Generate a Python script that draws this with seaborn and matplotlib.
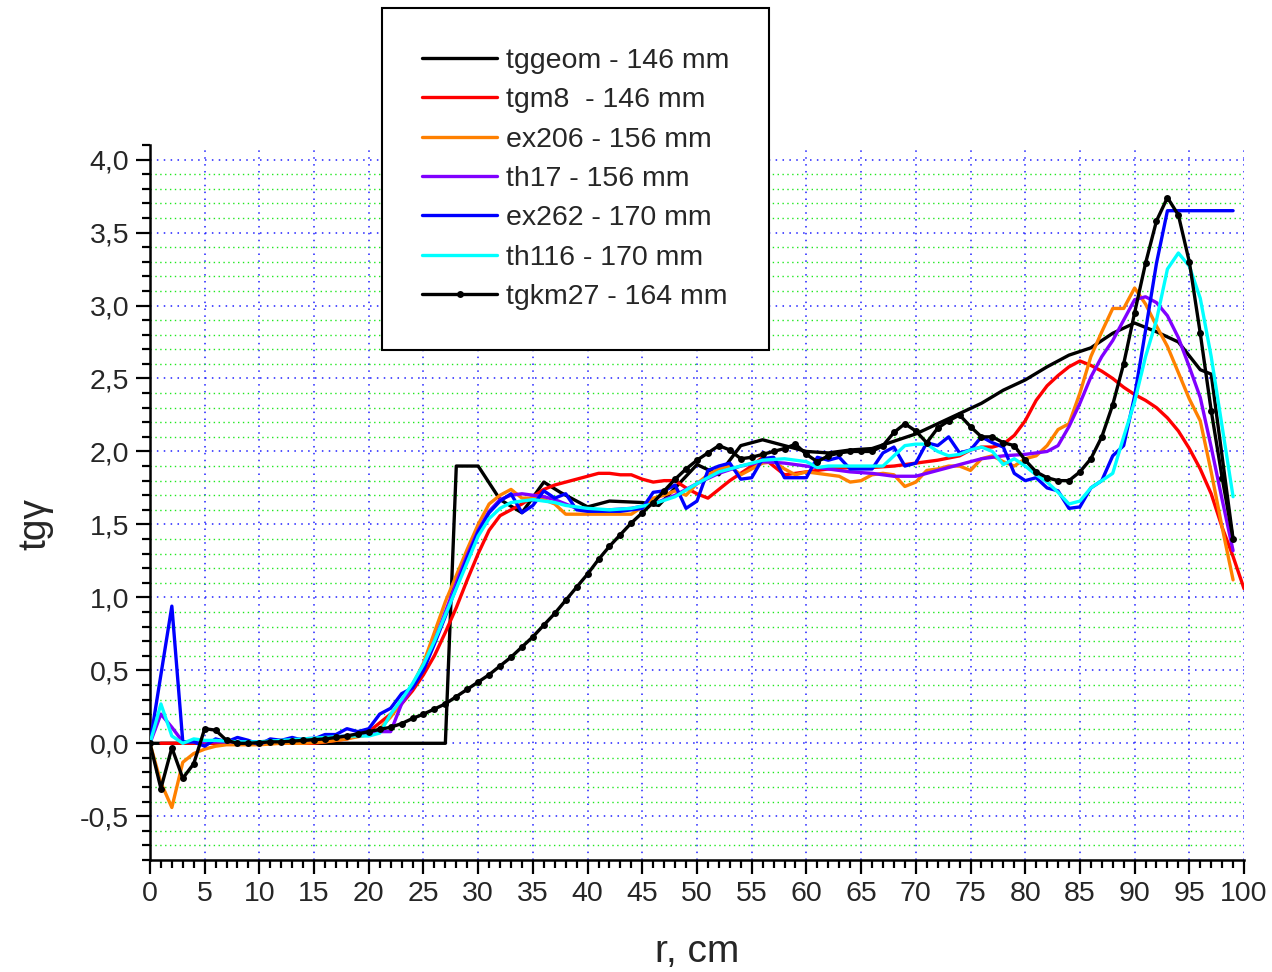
import matplotlib
matplotlib.use("Agg")
import matplotlib.pyplot as plt
import seaborn as sns
import pandas as pd
from matplotlib.ticker import MultipleLocator, FixedLocator

sns.set_style("white")
plt.rcParams['font.family'] = ['Liberation Sans', 'DejaVu Sans']

# ---------------- data ----------------
tggeom_r = [0, 27, 28, 30, 32, 34, 36, 37.5, 40, 42, 45, 46.5, 50, 52, 54, 56, 58, 60, 62, 64, 66, 68,
            70, 72, 74, 76, 78, 80, 82, 84, 86, 88, 90, 92, 94, 96, 97, 99]
tggeom_v = [0, 0, 1.9, 1.9, 1.67, 1.58, 1.79, 1.72, 1.62, 1.66, 1.65, 1.63, 1.91, 1.84, 2.04, 2.08, 2.04,
            2.0, 1.99, 2.01, 2.02, 2.07, 2.12, 2.19, 2.26, 2.33, 2.42, 2.49, 2.58, 2.66, 2.71, 2.81, 2.88,
            2.82, 2.75, 2.56, 2.53, 1.40]

tgm8_r = [1, 5, 10, 15, 16, 18, 20, 21, 22, 23, 24, 25, 26, 27, 28, 29, 30, 31, 32, 33, 34, 35, 36, 37,
          38, 39, 40, 41, 42, 43, 44, 45, 46, 47, 48, 49, 50, 51, 52, 53, 54, 55, 56, 57, 58, 60, 62, 64,
          66, 68, 70, 72, 74, 75, 76, 77, 78, 79, 80, 81, 82, 83, 84, 85, 86, 87, 88, 89, 90, 91, 92, 93,
          94, 95, 96, 97, 98, 99, 100]
tgm8_v = [0, 0, 0, 0, 0.01, 0.03, 0.08, 0.14, 0.2, 0.27, 0.36, 0.47, 0.6, 0.76, 0.93, 1.12, 1.30, 1.46,
          1.56, 1.60, 1.64, 1.69, 1.74, 1.77, 1.79, 1.81, 1.83, 1.85, 1.85, 1.84, 1.84, 1.81, 1.79, 1.80,
          1.80, 1.75, 1.71, 1.68, 1.74, 1.80, 1.85, 1.90, 1.96, 1.90, 1.84, 1.86, 1.88, 1.89, 1.89, 1.90,
          1.92, 1.94, 1.97, 2.01, 2.03, 2.03, 2.05, 2.11, 2.21, 2.35, 2.45, 2.52, 2.58, 2.62, 2.59, 2.55,
          2.50, 2.44, 2.39, 2.35, 2.30, 2.23, 2.14, 2.02, 1.88, 1.71, 1.48, 1.28, 1.06]

ex206_r = [0, 1, 2, 3, 4, 5, 6, 7, 8, 10, 12, 14, 16, 18, 20, 21, 22, 23, 24, 25, 26, 27, 28, 29, 30, 31,
           32, 33, 34, 35, 36, 37, 38, 39, 40, 41, 42, 43, 44, 45, 46, 47, 48, 49, 50, 51, 52, 53, 54, 55,
           56, 57, 58, 59, 60, 61, 62, 63, 64, 65, 66, 67, 68, 69, 70, 71, 72, 73, 74, 75, 76, 77, 78, 79,
           80, 81, 82, 83, 84, 85, 86, 87, 88, 89, 90, 91, 92, 93, 94, 95, 96, 97, 98, 99]
ex206_v = [0, -0.27, -0.44, -0.13, -0.07, -0.04, -0.02, -0.01, -0.01, -0.01, 0.0, 0.0, 0.01, 0.03, 0.06,
           0.1, 0.18, 0.28, 0.4, 0.55, 0.76, 0.97, 1.15, 1.33, 1.5, 1.64, 1.70, 1.74, 1.68, 1.68, 1.67,
           1.64, 1.57, 1.57, 1.57, 1.57, 1.57, 1.57, 1.57, 1.62, 1.68, 1.70, 1.73, 1.70, 1.78, 1.84, 1.88,
           1.90, 1.84, 1.88, 1.92, 1.93, 1.88, 1.84, 1.86, 1.85, 1.84, 1.83, 1.79, 1.80, 1.84, 1.85, 1.84,
           1.76, 1.79, 1.87, 1.88, 1.90, 1.90, 1.87, 1.95, 1.97, 1.93, 1.90, 1.95, 1.97, 2.04, 2.15, 2.19,
           2.40, 2.65, 2.82, 2.98, 2.98, 3.12, 3.01, 2.86, 2.72, 2.54, 2.36, 2.21, 1.86, 1.48, 1.12]

th17_r = [0, 1, 2, 3, 4, 6, 8, 10, 12, 14, 16, 18, 20, 21, 22, 23, 24, 25, 26, 27, 28, 29, 30, 31, 32,
          33, 34, 35, 36, 37, 38, 39, 40, 42, 44, 46, 48, 50, 52, 54, 56, 58, 60, 62, 64, 66, 68, 70, 72,
          74, 76, 78, 80, 82, 83, 84, 85, 86, 87, 88, 89, 90, 91, 92, 93, 94, 95, 96, 97, 98, 99]
th17_v = [0, 0.2, 0.11, 0.01, 0.01, 0.01, 0.01, 0.01, 0.02, 0.03, 0.04, 0.05, 0.07, 0.08, 0.08, 0.27,
          0.38, 0.52, 0.7, 0.9, 1.1, 1.29, 1.46, 1.59, 1.67, 1.70, 1.71, 1.70, 1.69, 1.67, 1.64, 1.61,
          1.60, 1.60, 1.61, 1.64, 1.70, 1.78, 1.85, 1.90, 1.93, 1.92, 1.90, 1.88, 1.86, 1.85, 1.83, 1.83,
          1.87, 1.91, 1.95, 1.97, 1.98, 2.0, 2.04, 2.17, 2.33, 2.51, 2.65, 2.76, 2.9, 3.04, 3.06, 3.02,
          2.93, 2.78, 2.58, 2.37, 2.03, 1.67, 1.32]

ex262_r = list(range(0, 100))
ex262_v = [0, 0.47, 0.94, 0.01, 0.01, -0.02, 0.03, 0.01, 0.04, 0.02, -0.01, 0.03, 0.02, 0.04, 0.02,
           0.03, 0.06, 0.06, 0.10, 0.08, 0.10, 0.20, 0.24, 0.34, 0.38, 0.50, 0.68, 0.87, 1.07, 1.27,
           1.45, 1.58, 1.66, 1.71, 1.58, 1.63, 1.73, 1.68, 1.71, 1.60, 1.59, 1.59, 1.59, 1.59, 1.60,
           1.61, 1.72, 1.73, 1.77, 1.61, 1.66, 1.87, 1.90, 1.92, 1.81, 1.82, 1.95, 1.96, 1.82, 1.82,
           1.82, 1.96, 1.94, 1.96, 1.88, 1.88, 1.88, 1.99, 2.03, 1.90, 1.92, 2.06, 2.04, 2.10, 1.99,
           2.01, 2.10, 2.06, 2.03, 1.85, 1.80, 1.82, 1.75, 1.73, 1.61, 1.62, 1.75, 1.80, 1.97, 2.04,
           2.38, 2.83, 3.29, 3.65, 3.65, 3.65, 3.65, 3.65, 3.65, 3.65]

th116_r = [0, 1, 2, 3, 4, 5, 6, 8, 10, 12, 14, 16, 18, 20, 21, 22, 23, 24, 25, 26, 27, 28, 29, 30, 31,
           32, 33, 34, 35, 36, 37, 38, 40, 42, 44, 46, 48, 50, 52, 54, 56, 58, 60, 61, 62, 64, 66, 67,
           68, 69, 70, 71, 72, 73, 74, 75, 76, 77, 78, 79, 80, 81, 82, 83, 84, 85, 86, 87, 88, 89, 90,
           91, 92, 93, 94, 95, 96, 97, 98, 99]
th116_v = [0, 0.27, 0.05, 0.0, 0.03, 0.02, 0.02, 0.01, 0.01, 0.02, 0.03, 0.04, 0.05, 0.05, 0.07, 0.2,
           0.3, 0.41, 0.54, 0.7, 0.88, 1.06, 1.24, 1.42, 1.54, 1.61, 1.65, 1.66, 1.67, 1.66, 1.65, 1.63,
           1.61, 1.60, 1.61, 1.64, 1.69, 1.78, 1.86, 1.90, 1.94, 1.95, 1.93, 1.89, 1.90, 1.90, 1.90, 1.90,
           1.97, 2.04, 2.05, 2.05, 2.0, 1.97, 1.98, 2.01, 2.03, 2.0, 1.91, 1.95, 1.90, 1.84, 1.79, 1.72,
           1.64, 1.66, 1.75, 1.80, 1.85, 2.10, 2.34, 2.65, 2.90, 3.25, 3.36, 3.27, 3.05, 2.65, 2.17, 1.69]

tgkm27_r = list(range(0, 100))
tgkm27_v = [0, -0.31, -0.03, -0.24, -0.14, 0.10, 0.09, 0.02, 0.0, 0.0, 0.005, 0.01, 0.01, 0.015, 0.02,
            0.025, 0.03, 0.04, 0.05, 0.065, 0.08, 0.095, 0.11, 0.135, 0.17, 0.20, 0.235, 0.27, 0.32,
            0.37, 0.42, 0.47, 0.53, 0.59, 0.66, 0.73, 0.81, 0.89, 0.98, 1.07, 1.16, 1.26, 1.35, 1.43,
            1.51, 1.58, 1.65, 1.73, 1.81, 1.88, 1.94, 1.99, 2.04, 2.01, 1.95, 1.96, 1.98, 2.0, 2.02,
            2.05, 1.98, 1.93, 1.97, 1.99, 2.0, 2.0, 2.0, 2.04, 2.13, 2.19, 2.14, 2.06, 2.16, 2.21, 2.25,
            2.17, 2.10, 2.10, 2.06, 2.04, 1.94, 1.86, 1.82, 1.80, 1.80, 1.86, 1.95, 2.10, 2.32, 2.60,
            2.95, 3.29, 3.58, 3.74, 3.62, 3.30, 2.81, 2.28, 1.82, 1.40]

labels = ["tggeom - 146 mm", "tgm8  - 146 mm", "ex206 - 156 mm", "th17 - 156 mm",
          "ex262 - 170 mm", "th116 - 170 mm", "tgkm27 - 164 mm"]
colors = ["#000000", "#FF0000", "#FF8000", "#8000FF", "#0000FF", "#00FFFF", "#000000"]

x_ticks = list(range(0, 101, 5))
y_ticks = [-0.5, 0.0, 0.5, 1.0, 1.5, 2.0, 2.5, 3.0, 3.5, 4.0]
y_tick_labels = ["-0,5", "0,0", "0,5", "1,0", "1,5", "2,0", "2,5", "3,0", "3,5", "4,0"]

series = [(tggeom_r, tggeom_v), (tgm8_r, tgm8_v), (ex206_r, ex206_v), (th17_r, th17_v),
          (ex262_r, ex262_v), (th116_r, th116_v), (tgkm27_r, tgkm27_v)]

# ---------------- figure ----------------
fig = plt.figure(figsize=(12.72, 9.72), dpi=100)
ax = fig.add_axes([0.1179, 0.1152, 0.8601, 0.7356])

for i, ((xs, ys), lab, col) in enumerate(zip(series, labels, colors)):
    df = pd.DataFrame({"r": xs, "v": ys})
    kw = {}
    if i == 6:
        kw = dict(marker="o", markersize=5, markeredgewidth=0)
    sns.lineplot(data=df, x="r", y="v", ax=ax, color=col, linewidth=2.4, label=lab,
                 sort=False, estimator=None, zorder=3 + i, legend=False, **kw)

ax.set_xlim(0, 100)
ax.set_ylim(-0.8, 4.1)
ax.xaxis.set_major_locator(FixedLocator(x_ticks))
ax.xaxis.set_minor_locator(MultipleLocator(1))
ax.yaxis.set_major_locator(FixedLocator(y_ticks))
ax.set_yticklabels(y_tick_labels)
ax.yaxis.set_minor_locator(MultipleLocator(0.1))

# grids
ax.grid(False)
for xv in x_ticks[1:]:
    ax.axvline(xv, color="#2020FF", linestyle=(0, (1, 3.5)), linewidth=1.1, zorder=1)
yminors = [round(-0.8 + 0.1 * k, 1) for k in range(1, 49)]
for yv in yminors:
    if any(abs(yv - t) < 1e-6 for t in y_ticks):
        ax.axhline(yv, color="#2020FF", linestyle=(0, (1, 3.5)), linewidth=1.1, zorder=1)
    else:
        ax.axhline(yv, color="#20E820", linestyle=(0, (1, 2.5)), linewidth=1.0, zorder=1)

for s in ["top", "right"]:
    ax.spines[s].set_visible(False)
for s in ["left", "bottom"]:
    ax.spines[s].set_linewidth(1.8)
    ax.spines[s].set_color("black")

ax.tick_params(axis="both", which="major", direction="out", length=10, width=1.6,
               labelsize=20.5, color="black", pad=5, left=True, bottom=True)
ax.tick_params(axis="both", which="minor", direction="out", length=6, width=1.6,
               color="black", left=True, bottom=True)

ax.set_xlabel("r, cm", fontsize=28)
ax.set_ylabel("tgγ", fontsize=28)
ax.xaxis.set_label_coords(0.5, -0.104)
ax.yaxis.set_label_coords(-0.088, 0.47)

handles = ax.get_lines()[:7]
leg = fig.legend(handles, labels, loc="upper left", bbox_to_anchor=(382 / 1272, 1 - 8 / 972),
                 fontsize=20.5, frameon=True, fancybox=False, edgecolor="black",
                 handlelength=2.65, handletextpad=0.3, labelspacing=0.47, borderpad=1.4,
                 borderaxespad=0)
leg.get_frame().set_linewidth(1.5)
leg.get_frame().set_facecolor("white")
leg.get_frame().set_alpha(1)

fig.savefig("out.png", dpi=100)
